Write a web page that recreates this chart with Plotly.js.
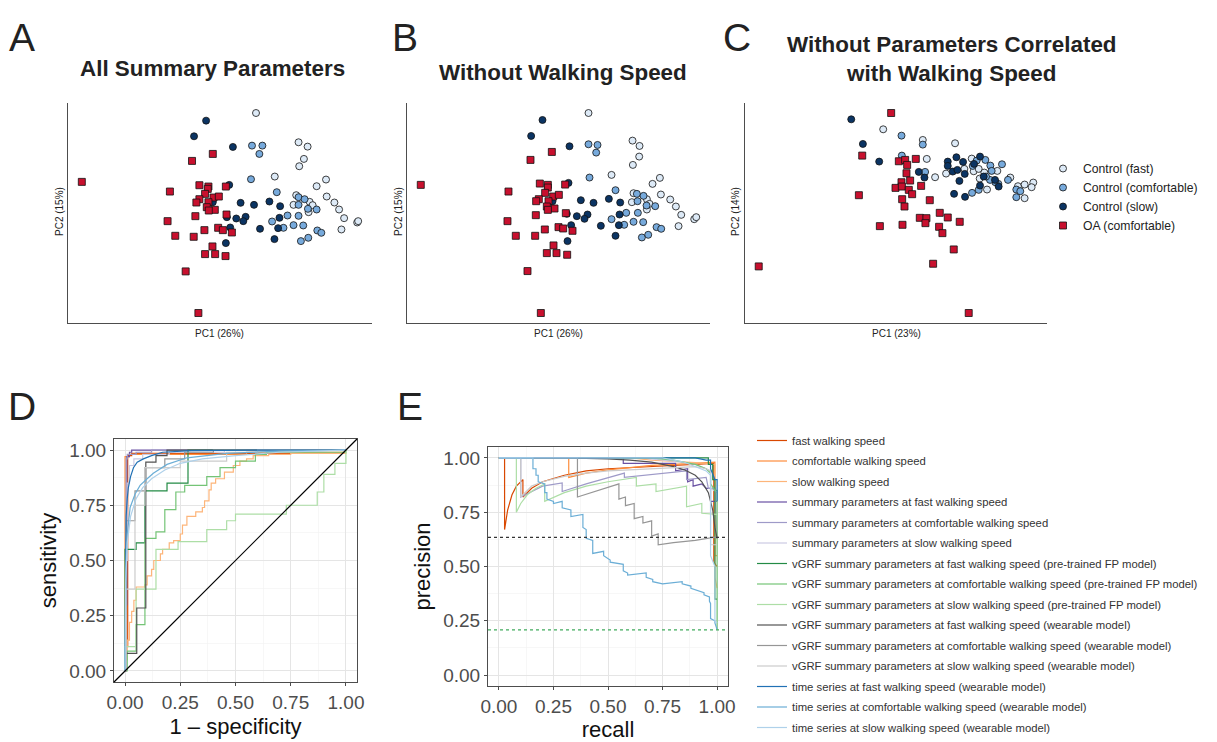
<!DOCTYPE html>
<html><head><meta charset="utf-8">
<script src="https://cdn.plot.ly/plotly-3.0.1.min.js"></script>
<style>html,body{margin:0;padding:0;background:#fff}#chart{width:1217px;height:742px}</style>
</head><body><div id="chart"></div>
<script>
// ---------- PCA scores (panel A: all summary parameters) ----------
const groupNames = ["Control (fast)", "Control (comfortable)", "Control (slow)", "OA (comfortable)"];

const A_fast_pc1 = [1.08,2.35,2.62,2.51,2.37,1.64,3.17,2.89,2.28,3.19,3.42,2.20,2.68,2.77,3.56,2.65,3.71,4.10,4.13,3.63];
const A_fast_pc2 = [3.63,2.75,2.62,2.25,2.03,1.72,1.63,1.43,1.16,1.12,0.94,0.87,0.96,0.86,0.73,0.65,0.47,0.34,0.38,0.13];
const A_comf_pc1 = [0.96,1.27,1.18,0.93,1.70,2.35,2.53,2.35,2.63,2.89,2.02,2.35,1.56,2.20,2.49,1.90,2.91,3.03,2.42,2.64];
const A_comf_pc2 = [2.65,2.65,2.40,1.64,1.25,1.10,1.04,0.87,0.75,0.73,0.55,0.54,0.37,0.26,0.25,0.18,0.10,0.03,-0.22,-0.12];
const A_slow_pc1 = [-0.41,-0.77,0.39,0.28,-0.21,0.62,1.02,1.48,1.80,1.78,0.49,0.77,0.70,0.21,0.31,1.20,1.74,1.63,0.18];
const A_slow_pc2 = [3.40,2.93,2.61,1.47,0.95,0.93,0.87,0.97,0.83,0.48,0.46,0.51,0.38,0.50,0.19,0.15,0.17,-0.16,-0.28];
const A_oa_pc1 = [-4.12,-0.21,-0.83,-1.49,-0.61,-0.34,-0.36,0.18,-0.44,-0.61,-0.70,-0.19,-0.03,-0.34,-0.39,-0.15,-0.33,0.20,-0.73,-1.56,-0.05,0.09,0.36,-0.46,-1.33,-0.78,-0.22,-0.44,-0.14,0.17,-1.02,-0.64];
const A_oa_pc2 = [1.56,2.40,2.19,1.27,1.46,1.42,1.35,1.42,1.20,1.04,0.94,1.09,1.12,0.95,0.80,0.72,0.70,0.58,0.53,0.38,0.18,0.11,0.04,0.11,-0.06,-0.09,-0.38,-0.61,-0.61,-0.67,-1.13,-2.38];

// ---------- panel B: without walking speed ----------
const B_fast_pc1 = [0.85,2.17,2.38,2.37,2.18,1.54,2.99,2.77,2.20,3.02,3.30,3.47,3.63,4.02,4.08,3.55,2.15,2.60,2.60,2.68];
const B_fast_pc2 = [3.63,2.80,2.64,2.32,2.07,1.77,1.68,1.50,1.22,1.18,1.03,0.82,0.57,0.44,0.50,0.23,0.95,1.04,0.73,0.90];
const B_comf_pc1 = [0.85,1.12,1.08,0.88,1.66,2.30,2.50,2.32,2.59,2.85,1.98,2.33,1.54,2.20,2.49,1.92,2.89,3.03,2.45,2.64];
const B_comf_pc2 = [2.69,2.67,2.44,1.69,1.31,1.20,1.14,0.98,0.85,0.83,0.63,0.63,0.44,0.36,0.35,0.27,0.20,0.15,-0.11,-0.03];
const B_slow_pc1 = [-0.53,-0.87,0.28,0.25,-0.23,0.62,1.00,1.46,1.80,1.78,0.50,0.82,0.73,0.20,0.33,1.22,1.76,1.66,0.22];
const B_slow_pc2 = [3.42,2.94,2.63,1.53,0.98,1.01,0.93,1.05,0.94,0.58,0.53,0.58,0.45,0.60,0.26,0.24,0.26,-0.06,-0.22];
const B_oa_pc1 = [-4.18,-0.25,-0.89,-1.55,-0.61,-0.37,-0.37,0.15,-0.45,-0.64,-0.72,-0.21,-0.04,-0.35,-0.40,-0.17,-0.37,0.17,-0.73,-1.58,-0.05,0.09,0.37,-0.46,-1.33,-0.75,-0.20,-0.40,-0.11,0.21,-0.98,-0.58];
const B_oa_pc2 = [1.47,2.46,2.22,1.27,1.51,1.47,1.39,1.48,1.23,1.04,0.98,1.12,1.17,0.98,0.82,0.76,0.72,0.62,0.56,0.38,0.20,0.16,0.09,0.13,-0.06,-0.06,-0.35,-0.58,-0.58,-0.63,-1.12,-2.38];

// ---------- panel C: without parameters correlated with walking speed ----------
const C_fast_pc1 = [-0.49,0.70,1.67,0.82,1.07,1.40,2.17,2.23,2.38,2.55,2.41,2.63,2.94,3.33,3.56,3.76,4.02,3.97,3.76,1.95];
const C_fast_pc2 = [3.14,2.82,2.72,2.25,1.70,1.81,2.26,1.88,1.95,1.84,1.66,1.33,1.89,1.69,1.43,1.48,1.54,1.40,1.07,1.95];
const C_comf_pc1 = [0.06,0.70,0.07,0.77,2.18,2.38,2.32,2.58,2.73,2.77,3.08,2.97,3.26,3.51,3.51,3.63,2.88,2.72,2.60,2.20];
const C_comf_pc2 = [2.95,2.68,2.35,1.86,1.23,1.32,2.20,2.22,2.05,1.89,2.09,1.50,1.62,1.33,1.10,1.28,1.55,1.62,1.72,2.04];
const C_slow_pc1 = [-1.45,-1.10,-0.61,0.58,0.75,1.45,1.45,1.71,1.91,1.60,1.74,1.96,1.80,2.24,2.42,2.53,2.42,2.87,2.98,1.64,1.97];
const C_slow_pc2 = [3.44,2.70,2.17,1.86,1.69,2.17,2.04,2.30,2.16,1.87,1.92,1.80,1.59,2.10,2.32,1.72,1.45,1.62,1.42,1.20,1.11];
const C_oa_pc1 = [-0.25,-1.12,-1.22,-0.02,0.17,0.23,0.49,0.21,0.32,0.06,-0.12,0.07,0.28,0.38,0.65,0.08,0.15,0.91,1.21,0.61,0.81,0.78,1.45,1.81,-0.59,0.09,1.19,1.29,1.63,1.01,-4.23,2.08];
const C_oa_pc2 = [3.63,2.35,1.16,2.18,2.22,2.07,2.25,1.82,1.60,1.55,1.38,1.42,1.32,1.19,1.44,1.04,0.82,1.01,0.63,0.48,0.47,0.32,0.49,0.36,0.23,0.27,0.21,0.02,-0.47,-0.90,-0.98,-2.38];

const pcaTitles = ["All Summary Parameters", "Without Walking Speed", "Without Parameters Correlated<br>with Walking Speed"];
const pc1Labels = ["PC1 (26%)", "PC1 (26%)", "PC1 (23%)"];
const pc2Labels = ["PC2 (15%)", "PC2 (15%)", "PC2 (14%)"];

// ---------- Classifier curves ----------
const curveNames = [
  "fast walking speed", "comfortable walking speed", "slow walking speed",
  "summary parameters at fast walking speed", "summary parameters at comfortable walking speed", "summary parameters at slow walking speed",
  "vGRF summary parameters at fast walking speed (pre-trained FP model)", "vGRF summary parameters at comfortable walking speed (pre-trained FP model)", "vGRF summary parameters at slow walking speed (pre-trained FP model)",
  "vGRF summary parameters at fast walking speed (wearable model)", "vGRF summary parameters at comfortable walking speed (wearable model)", "vGRF summary parameters at slow walking speed (wearable model)",
  "time series at fast walking speed (wearable model)", "time series at comfortable walking speed (wearable model)", "time series at slow walking speed (wearable model)"
];

// ROC: x = 1 - specificity, y = sensitivity
const roc_ws_fast_x = [0,0.005,0.012,0.03,1];
const roc_ws_fast_y = [0,0.11,0.975,0.985,0.985];
const roc_ws_comf_x = [0,0,0.02,0.55,1];
const roc_ws_comf_y = [0,0.97,0.98,0.99,0.99];
const roc_ws_slow_x = [0,0.005,0.01,0.02,0.03,0.04,0.05,0.09,0.10,0.12,0.13,0.16,0.17,0.20,0.22,0.25,0.26,0.28,0.32,0.35,0.36,0.38,0.39,0.41,0.45,0.49,0.52,0.55,0.58,0.65,0.75,1];
const roc_ws_slow_y = [0,0.05,0.14,0.22,0.27,0.32,0.38,0.39,0.43,0.46,0.50,0.53,0.55,0.58,0.59,0.62,0.66,0.70,0.72,0.74,0.77,0.82,0.85,0.87,0.90,0.93,0.95,0.96,0.975,0.98,0.985,0.99];
const roc_sp_fast_x = [0,0.005,0.008,0.02,0.03,1];
const roc_sp_fast_y = [0,0.30,0.97,0.99,1,1];
const roc_sp_comf_x = [0,0.003,0.005,0.01,0.05,0.12,1];
const roc_sp_comf_y = [0,0.60,0.96,0.98,0.99,1,1];
const roc_sp_slow_x = [0,0.005,0.01,0.02,0.04,0.08,0.2,0.45,1];
const roc_sp_slow_y = [0,0.50,0.85,0.93,0.96,0.98,0.99,1,1];
const roc_pt_fast_x = [0,0,0.05,0.09,0.19,0.285,1];
const roc_pt_fast_y = [0,0.55,0.58,0.815,0.85,1,1];
const roc_pt_comf_x = [0,0.01,0.05,0.09,0.14,0.18,0.23,0.27,0.37,0.43,0.50,0.59,0.64,1];
const roc_pt_comf_y = [0,0.09,0.21,0.60,0.63,0.73,0.81,0.84,0.88,0.92,0.95,0.98,0.99,1];
const roc_pt_slow_x = [0,0,0.05,0.14,0.24,0.37,0.46,0.50,0.73,0.87,0.90,0.95,1,1];
const roc_pt_slow_y = [0,0.11,0.37,0.55,0.585,0.64,0.68,0.71,0.75,0.81,0.89,0.94,0.95,1];
const roc_w_fast_x = [0,0.005,0.053,0.094,0.14,0.19,1];
const roc_w_fast_y = [0,0.08,0.285,0.945,0.975,1,1];
const roc_w_comf_x = [0,0.005,0.045,0.09,0.18,0.27,0.4,1];
const roc_w_comf_y = [0,0.68,0.815,0.92,0.96,0.99,1,1];
const roc_w_slow_x = [0,0.005,0.045,0.09,0.25,0.46,0.6,1];
const roc_w_slow_y = [0,0.37,0.75,0.92,0.95,0.99,1,1];
const roc_ts_fast_x = [0,0.002,0.005,0.01,0.015,0.025,0.038,0.055,0.083,0.12,0.17,0.3,0.6,1];
const roc_ts_fast_y = [0,0.55,0.70,0.78,0.83,0.88,0.92,0.945,0.96,0.975,0.99,0.997,1,1];
const roc_ts_comf_x = [0,0.003,0.01,0.023,0.045,0.068,0.1,0.128,0.19,0.28,0.46,0.7,1];
const roc_ts_comf_y = [0,0.45,0.62,0.74,0.80,0.84,0.87,0.895,0.935,0.965,0.985,0.995,1];
const roc_ts_slow_x = [0,0.003,0.01,0.025,0.05,0.08,0.12,0.18,0.25,0.35,0.5,0.7,1];
const roc_ts_slow_y = [0,0.40,0.58,0.70,0.78,0.83,0.87,0.91,0.94,0.96,0.975,0.99,1];

// PR: x = recall, y = precision
const pr_ws_fast_x = [0,0.026,0.026,0.04,0.06,0.08,0.11,0.11,0.15,0.2,0.3,0.4,0.5,0.6,0.7,0.8,0.9,0.975,0.985,0.985,1];
const pr_ws_fast_y = [1,1,0.67,0.76,0.83,0.87,0.90,0.82,0.86,0.89,0.92,0.94,0.95,0.955,0.96,0.965,0.97,0.975,0.975,0.52,0.5];
const pr_ws_comf_x = [0,0.32,0.32,0.4,0.5,0.6,0.7,0.8,0.9,0.97,0.99,0.99,1];
const pr_ws_comf_y = [1,1,0.91,0.93,0.945,0.955,0.965,0.97,0.975,0.98,0.98,0.55,0.55];
const pr_ws_slow_x = [0,0.6,0.7,0.8,0.9,0.96,0.97,0.99,0.99,1];
const pr_ws_slow_y = [1,1,0.99,0.985,0.98,0.975,0.97,0.97,0.45,0.4];
const pr_sp_fast_x = [0,0.57,0.57,0.7,0.81,0.81,0.865,0.865,0.89,0.89,0.93,0.95,0.97,0.97,1];
const pr_sp_fast_y = [1,1,0.975,0.975,0.975,0.94,0.95,0.89,0.9,0.87,0.88,0.86,0.86,0.8,0.8];
const pr_sp_comf_x = [0,0.1,0.1,0.2,0.29,0.29,0.4,0.5,0.575,0.575,0.75,0.86,0.86,0.95,0.96,0.99,1];
const pr_sp_comf_y = [1,1,0.82,0.87,0.885,0.845,0.88,0.91,0.93,0.91,0.93,0.94,0.9,0.91,0.86,0.86,0.63];
const pr_sp_slow_x = [0,0.65,0.8,0.9,0.95,0.97,0.97,1];
const pr_sp_slow_y = [1,1,0.985,0.97,0.95,0.94,0.86,0.84];
const pr_pt_fast_x = [0,0.96,0.96,0.98,0.98,0.99,0.99,1];
const pr_pt_fast_y = [1,1,0.97,0.97,0.9,0.9,0.35,0.35];
const pr_pt_comf_x = [0,0.7,0.8,0.9,0.95,0.97,0.97,0.99,1,1];
const pr_pt_comf_y = [1,1,0.99,0.97,0.95,0.93,0.88,0.85,0.85,0.21];
const pr_pt_slow_x = [0,0.08,0.08,0.1,0.13,0.17,0.21,0.21,0.3,0.4,0.5,0.63,0.63,0.72,0.72,0.86,0.86,0.93,0.93,0.99,1];
const pr_pt_slow_y = [1,1,0.75,0.79,0.83,0.86,0.88,0.80,0.84,0.87,0.89,0.91,0.87,0.88,0.845,0.87,0.775,0.79,0.745,0.74,0.74];
const pr_w_fast_x = [0,0.3,0.5,0.6,0.7,0.75,0.8,0.85,0.9,0.93,0.96,0.98,0.99,1];
const pr_w_fast_y = [1,1,0.995,0.99,0.98,0.97,0.96,0.945,0.92,0.89,0.84,0.76,0.68,0.63];
const pr_w_comf_x = [0,0.36,0.36,0.45,0.55,0.55,0.58,0.58,0.62,0.62,0.66,0.66,0.7,0.7,0.73,0.73,0.8,0.9,0.99,1];
const pr_w_comf_y = [1,1,0.82,0.85,0.88,0.81,0.82,0.78,0.79,0.72,0.73,0.70,0.71,0.64,0.65,0.60,0.61,0.62,0.635,0.63];
const pr_w_slow_x = [0,0.1,0.1,0.15,0.2,0.3,0.4,0.5,0.6,0.7,0.8,0.9,0.95,0.97,0.97,1];
const pr_w_slow_y = [1,1,0.82,0.87,0.89,0.915,0.93,0.94,0.945,0.95,0.955,0.96,0.95,0.94,0.6,0.6];
const pr_ts_fast_x = [0,0.7,0.9,0.95,0.97,0.97,0.99,1,1];
const pr_ts_fast_y = [1,1,1,0.99,0.99,0.95,0.9,0.9,0.8];
const pr_ts_comf_x = [0,0.156,0.156,0.17,0.17,0.18,0.18,0.21,0.21,0.22,0.22,0.25,0.25,0.28,0.29,0.29,0.33,0.33,0.385,0.385,0.40,0.40,0.43,0.43,0.48,0.48,0.51,0.51,0.57,0.57,0.59,0.59,0.675,0.675,0.705,0.705,0.75,0.75,0.84,0.84,0.88,0.88,0.94,0.94,0.965,0.965,0.97,0.97,0.99,0.99,1];
const pr_ts_comf_y = [1,1,0.95,0.95,0.92,0.92,0.89,0.88,0.84,0.84,0.81,0.80,0.79,0.80,0.80,0.77,0.76,0.73,0.74,0.68,0.67,0.63,0.62,0.56,0.57,0.55,0.53,0.52,0.51,0.48,0.47,0.46,0.47,0.45,0.44,0.43,0.42,0.42,0.43,0.42,0.41,0.40,0.38,0.37,0.36,0.34,0.33,0.26,0.25,0.24,0.21];
const pr_ts_slow_x = [0,0.75,0.85,0.9,0.95,0.97,0.97,0.99,0.99,1];
const pr_ts_slow_y = [1,1,0.98,0.96,0.94,0.92,0.55,0.5,0.25,0.24];

// PR baselines (dotted reference lines)
const prBaselines = [0.634, 0.208];

// ---------- styles ----------
const groupColors = ["#DDEAF7", "#77AADC", "#0B3463", "#C8102E"];
const groupSymbols = ["circle", "circle", "circle", "square"];
const curveColors = ["#D94801","#FD8D3C","#FDB57A","#6A51A3","#9E9AC8","#CBC9E2","#238B45","#74C476","#ADDEA6","#525252","#969696","#CCCCCC","#2171B5","#6BAED6","#AFD1EA"];
const FONT = "Liberation Sans, Arial, sans-serif";
const W = 1217, H = 742;
const px = v => v / W, py = v => 1 - v / H;

const rocX = [roc_ws_fast_x,roc_ws_comf_x,roc_ws_slow_x,roc_sp_fast_x,roc_sp_comf_x,roc_sp_slow_x,roc_pt_fast_x,roc_pt_comf_x,roc_pt_slow_x,roc_w_fast_x,roc_w_comf_x,roc_w_slow_x,roc_ts_fast_x,roc_ts_comf_x,roc_ts_slow_x];
const rocY = [roc_ws_fast_y,roc_ws_comf_y,roc_ws_slow_y,roc_sp_fast_y,roc_sp_comf_y,roc_sp_slow_y,roc_pt_fast_y,roc_pt_comf_y,roc_pt_slow_y,roc_w_fast_y,roc_w_comf_y,roc_w_slow_y,roc_ts_fast_y,roc_ts_comf_y,roc_ts_slow_y];
const prX = [pr_ws_fast_x,pr_ws_comf_x,pr_ws_slow_x,pr_sp_fast_x,pr_sp_comf_x,pr_sp_slow_x,pr_pt_fast_x,pr_pt_comf_x,pr_pt_slow_x,pr_w_fast_x,pr_w_comf_x,pr_w_slow_x,pr_ts_fast_x,pr_ts_comf_x,pr_ts_slow_x];
const prY = [pr_ws_fast_y,pr_ws_comf_y,pr_ws_slow_y,pr_sp_fast_y,pr_sp_comf_y,pr_sp_slow_y,pr_pt_fast_y,pr_pt_comf_y,pr_pt_slow_y,pr_w_fast_y,pr_w_comf_y,pr_w_slow_y,pr_ts_fast_y,pr_ts_comf_y,pr_ts_slow_y];
const smoothRoc = [false,false,false,false,false,false,false,false,false,false,false,false,true,true,true];

const panels = [
  {x:[A_fast_pc1,A_comf_pc1,A_slow_pc1,A_oa_pc1], y:[A_fast_pc2,A_comf_pc2,A_slow_pc2,A_oa_pc2]},
  {x:[B_fast_pc1,B_comf_pc1,B_slow_pc1,B_oa_pc1], y:[B_fast_pc2,B_comf_pc2,B_slow_pc2,B_oa_pc2]},
  {x:[C_fast_pc1,C_comf_pc1,C_slow_pc1,C_oa_pc1], y:[C_fast_pc2,C_comf_pc2,C_slow_pc2,C_oa_pc2]}
];
function padRange(arrs){ const all=[].concat(...arrs); const mn=Math.min(...all), mx=Math.max(...all); const p=(mx-mn)*0.05; return [mn-p, mx+p]; }

const traces = [];
panels.forEach((p, pi) => {
  const ax = pi === 0 ? "" : String(pi + 1);
  for (let g = 0; g < 4; g++) {
    traces.push({
      type: "scatter", mode: "markers", x: p.x[g], y: p.y[g], name: groupNames[g],
      xaxis: "x" + ax, yaxis: "y" + ax, legend: "legend", showlegend: pi === 2,
      marker: {symbol: groupSymbols[g], size: 7, color: groupColors[g], line: {color: "#111", width: 0.8}},
      hoverinfo: "skip"
    });
  }
});
for (let i = 0; i < 15; i++) {
  traces.push({type:"scatter", mode:"lines", x: rocX[i], y: rocY[i], name: curveNames[i], xaxis:"x4", yaxis:"y4",
    showlegend:false, line:{color:curveColors[i], width:1.2, shape: smoothRoc[i] ? "linear" : "hv"}, hoverinfo:"skip"});
}
for (let i = 0; i < 15; i++) {
  traces.push({type:"scatter", mode:"lines", x: prX[i], y: prY[i], name: curveNames[i], xaxis:"x5", yaxis:"y5",
    legend:"legend2", legendgroup:"g"+i, showlegend:true, line:{color:curveColors[i], width:1.2}, hoverinfo:"skip"});
}

const pcaAxis = (dom, rng) => ({domain: dom, range: rng, showline:true, linecolor:"#4D4D4D", linewidth:1, showgrid:false, zeroline:false, showticklabels:false, ticks:""});
const perfAxis = (dom, title, anchor) => ({
  domain: dom, range:[-0.05,1.05], anchor: anchor, showline:true, mirror:true, linecolor:"#4D4D4D", linewidth:1,
  showgrid:true, gridcolor:"#E5E5E5", gridwidth:1, zeroline:false, tickvals:[0,0.25,0.5,0.75,1], tickformat:".2f",
  ticks:"outside", ticklen:3, tickcolor:"#4D4D4D", tickfont:{size:19, color:"#4D4D4D", family:FONT},
  minor:{tickvals:[0.125,0.375,0.625,0.875], showgrid:true, gridcolor:"#F2F2F2", gridwidth:0.6, ticks:""},
  title:{text:title, font:{size:22, color:"#111", family:FONT}, standoff: 6}
});

const topY = [py(323), py(103)];
const layout = {
  width: W, height: H, margin:{l:0,r:0,t:0,b:0}, paper_bgcolor:"#fff", plot_bgcolor:"rgba(0,0,0,0)",
  font:{family:FONT, color:"#222"},
  xaxis: Object.assign(pcaAxis([px(68),px(372)], padRange(panels[0].x)), {anchor:"y"}),
  yaxis: Object.assign(pcaAxis(topY, padRange(panels[0].y)), {anchor:"x"}),
  xaxis2: Object.assign(pcaAxis([px(407),px(710)], padRange(panels[1].x)), {anchor:"y2"}),
  yaxis2: Object.assign(pcaAxis(topY, padRange(panels[1].y)), {anchor:"x2"}),
  xaxis3: Object.assign(pcaAxis([px(745),px(1047)], padRange(panels[2].x)), {anchor:"y3"}),
  yaxis3: Object.assign(pcaAxis(topY, padRange(panels[2].y)), {anchor:"x3"}),
  xaxis4: perfAxis([px(114),px(357)], "1 \u2013 specificity", "y4"),
  yaxis4: perfAxis([py(682),py(439)], "sensitivity", "x4"),
  xaxis5: perfAxis([px(488),px(728)], "recall", "y5"),
  yaxis5: perfAxis([py(686),py(447)], "precision", "x5"),
  legend: {x:px(1043), y:py(154), xanchor:"left", yanchor:"top", font:{size:12.2, color:"#222", family:FONT}, bgcolor:"rgba(0,0,0,0)", itemwidth:30, traceorder:"normal"},
  legend2: {x:px(752), y:0, xanchor:"left", yanchor:"bottom", font:{size:11.3, color:"#333", family:FONT}, bgcolor:"rgba(0,0,0,0)", itemwidth:30, traceorder:"grouped", tracegroupgap:1.5},
  shapes: [
    {type:"line", xref:"x4 domain", yref:"y4 domain", x0:0, y0:0, x1:1, y1:1, line:{color:"#000", width:1.2}, layer:"above"},
    {type:"line", xref:"x5 domain", yref:"y5", x0:0, x1:1, y0:prBaselines[0], y1:prBaselines[0], line:{color:"#333", width:1.3, dash:"dot"}},
    {type:"line", xref:"x5 domain", yref:"y5", x0:0, x1:1, y0:prBaselines[1], y1:prBaselines[1], line:{color:"#41AB5D", width:1.3, dash:"dot"}}
  ],
  annotations: []
};
const ann = (text, x, y, size, extra) => Object.assign({text, x:px(x), y:py(y), xref:"paper", yref:"paper", showarrow:false, xanchor:"center", yanchor:"middle", font:{size, family:FONT, color:"#222"}}, extra||{});
[["A",22,37],["B",405,37],["C",737,37],["D",22,407],["E",410,407]].forEach(l => layout.annotations.push(ann(l[0], l[1], l[2], 39)));
layout.annotations.push(ann("<b>"+pcaTitles[0]+"</b>", 212, 68, 22.4));
layout.annotations.push(ann("<b>"+pcaTitles[1]+"</b>", 563, 72, 22.4));
layout.annotations.push(ann("<b>"+pcaTitles[2]+"</b>", 952, 59, 22.4));
[[220,333],[558,333],[896,333]].forEach((p,i) => layout.annotations.push(ann(pc1Labels[i], p[0], p[1], 10)));
[[59,212],[398,212],[735,212]].forEach((p,i) => layout.annotations.push(ann(pc2Labels[i], p[0], p[1], 10, {textangle:-90})));

Plotly.newPlot("chart", traces, layout, {staticPlot:true, displayModeBar:false});
</script></body></html>
